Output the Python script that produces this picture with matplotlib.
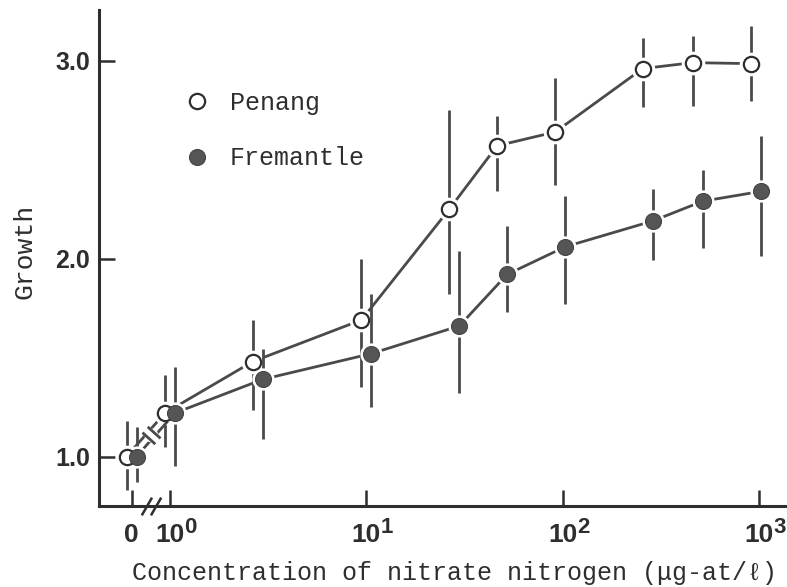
import numpy as np
import matplotlib
matplotlib.use("Agg")
import matplotlib.pyplot as plt
from matplotlib.path import Path
from matplotlib.transforms import offset_copy

# ---------------- data ----------------
conc = [0, 1, 2.8, 10, 28, 49, 97, 270, 485, 965]
penang = [1.00, 1.22, 1.48, 1.69, 2.25, 2.57, 2.64, 2.96, 2.99, 2.985]
penang_err_hi = [0.18, 0.19, 0.21, 0.31, 0.50, 0.15, 0.27, 0.155, 0.135, 0.19]
penang_err_lo = [0.17, 0.17, 0.245, 0.34, 0.43, 0.23, 0.27, 0.195, 0.22, 0.19]
fremantle = [1.00, 1.22, 1.39, 1.52, 1.66, 1.92, 2.06, 2.19, 2.29, 2.34]
fremantle_err_hi = [0.15, 0.23, 0.155, 0.30, 0.38, 0.245, 0.255, 0.16, 0.16, 0.28]
fremantle_err_lo = [0.13, 0.27, 0.30, 0.27, 0.34, 0.19, 0.29, 0.195, 0.235, 0.325]

series_names = ["Penang", "Fremantle"]
xtick_vals = [0, 1, 10, 100, 1000]
xtick_base = ["0", "10", "10", "10", "10"]
xtick_exp = ["", "0", "1", "2", "3"]
ytick_vals = [1.0, 2.0, 3.0]
ytick_labels = ["1.0", "2.0", "3.0"]
xlabel_text = "Concentration of nitrate nitrogen (\u03bcg-at/\u2113)"
ylabel_text = "Growth"

# ---------------- style ----------------
INK = "#2e2e2e"
LINE = "#4a4a4a"
FILL = "#555555"
MONO = ["Liberation Mono", "DejaVu Sans Mono"]
TICKFONT = {"family": "Liberation Sans", "weight": "bold"}

# broken axis: 0 placed left of 10^0, log scale beyond
ZERO = -0.196


def fwd(x):
    x = np.asarray(x, dtype=float)
    with np.errstate(all="ignore"):
        return np.where(x <= 0, ZERO + x,
                        np.where(x < 1, ZERO * (1 - x),
                                 np.log10(np.maximum(x, 1.0))))


def inv(y):
    y = np.asarray(y, dtype=float)
    with np.errstate(all="ignore"):
        return np.where(y <= ZERO, y - ZERO,
                        np.where(y < 0, 1 - y / ZERO,
                                 10 ** np.maximum(y, 0.0)))


def strokes(angle_deg, along_deg, sep, length=1.0):
    a = np.radians(angle_deg)
    b = np.radians(along_deg)
    d = np.array([np.cos(a), np.sin(a)]) * length / 2
    u = np.array([np.cos(b), np.sin(b)]) * sep / 2
    verts = [-u - d, -u + d, u - d, u + d]
    codes = [Path.MOVETO, Path.LINETO, Path.MOVETO, Path.LINETO]
    return Path(verts, codes)


fig = plt.figure(figsize=(7.87, 5.87), dpi=100)
ax = fig.add_axes([98.5 / 787, 81 / 587, 686.5 / 787, 496 / 587])
ax.set_xscale("function", functions=(fwd, inv))
ax.set_xlim(float(inv(-0.364)), float(inv(3.13)))
ax.set_ylim(0.75, 3.256)

tr_p = offset_copy(ax.transData, fig=fig, x=-5, y=0, units="dots")
tr_f = offset_copy(ax.transData, fig=fig, x=5, y=0, units="dots")

pen = np.array(penang)
fre = np.array(fremantle)

# Penang layer
ax.vlines(conc, pen - np.array(penang_err_lo), pen + np.array(penang_err_hi),
          colors=LINE, linewidth=2.0, transform=tr_p, zorder=2)
ax.plot(conc, pen, color=LINE, lw=2.0, transform=tr_p, zorder=2,
        solid_capstyle="butt")
ax.plot(conc, pen, ls="none", marker="o", ms=16, mfc="white", mec="white",
        transform=tr_p, zorder=2.5)
# Fremantle layer
ax.vlines(conc, fre - np.array(fremantle_err_lo), fre + np.array(fremantle_err_hi),
          colors=LINE, linewidth=2.0, transform=tr_f, zorder=3)
ax.plot(conc, fre, color=LINE, lw=2.0, transform=tr_f, zorder=3,
        solid_capstyle="butt")
ax.plot(conc, fre, ls="none", marker="o", ms=15, mfc="white", mec="white",
        transform=tr_f, zorder=3.5)
# markers
mk_p, = ax.plot(conc, pen, ls="none", marker="o", ms=11, mfc="white",
                mec=INK, mew=1.6, transform=tr_p, zorder=4)
mk_f, = ax.plot(conc, fre, ls="none", marker="o", ms=11.5, mfc=FILL,
                mec="#444444", mew=0.8, transform=tr_f, zorder=4.5)

# break mark on the 0 -> 10^0 connection
xm = float(inv((fwd(conc[0]) + fwd(conc[1])) / 2))
ym = (pen[0] + pen[1] + fre[0] + fre[1]) / 4
ax.plot([xm], [ym], ls="none", marker="o", ms=9, mfc="white", mec="white", zorder=5)
ax.plot([xm], [ym], ls="none", marker=strokes(-42, 48, 0.45), ms=13,
        mec=LINE, mew=2.0, zorder=5.5)
# break mark on the x axis
ax.plot([xm], [0], ls="none", marker=strokes(60, 0, 0.45), ms=14,
        mec=INK, mew=1.8, transform=ax.get_xaxis_transform(),
        clip_on=False, zorder=6)

# axes styling
for s in ("top", "right"):
    ax.spines[s].set_visible(False)
for s in ("left", "bottom"):
    ax.spines[s].set_linewidth(2.2)
    ax.spines[s].set_color(INK)

ax.set_xticks(xtick_vals)
ax.set_xticklabels(xtick_base)
ax.xaxis.set_minor_locator(matplotlib.ticker.NullLocator())
ax.set_yticks(ytick_vals)
ax.set_yticklabels(ytick_labels)
ax.tick_params(axis="both", direction="in", length=11.5, width=1.8, color=INK)
ax.tick_params(axis="x", pad=26, labelsize=19, labelcolor=INK)
ax.tick_params(axis="y", pad=6, labelsize=18, labelcolor=INK)
for t in ax.get_xticklabels() + ax.get_yticklabels():
    t.set_fontfamily(TICKFONT["family"])
    t.set_fontweight(TICKFONT["weight"])
for t in ax.get_xticklabels():
    t.set_verticalalignment("baseline")

# exponents of the decade labels
for v, b, e in zip(xtick_vals, xtick_base, xtick_exp):
    if e:
        ax.annotate(e, xy=(v, 0), xycoords=ax.get_xaxis_transform(),
                    xytext=(14, -27), textcoords="offset pixels",
                    ha="left", va="baseline", fontsize=16, color=INK,
                    annotation_clip=False, **TICKFONT)

ax.set_xlabel(xlabel_text, family=MONO, fontsize=18, color=INK)
ax.xaxis.set_label_coords(0.518, -0.110)
ax.set_ylabel(ylabel_text, family=MONO, fontsize=19, color=INK)
ax.yaxis.set_label_coords(-0.09, 0.513)

ax.legend(handles=[mk_p, mk_f], labels=series_names, loc="upper left",
          bbox_to_anchor=(0.1326, 0.837), frameon=False, borderpad=0,
          borderaxespad=0, handlelength=0.6, handletextpad=1.02,
          labelspacing=1.26, prop={"family": MONO, "size": 18},
          labelcolor=INK)

fig.savefig("out.png", dpi=100, facecolor="white")
